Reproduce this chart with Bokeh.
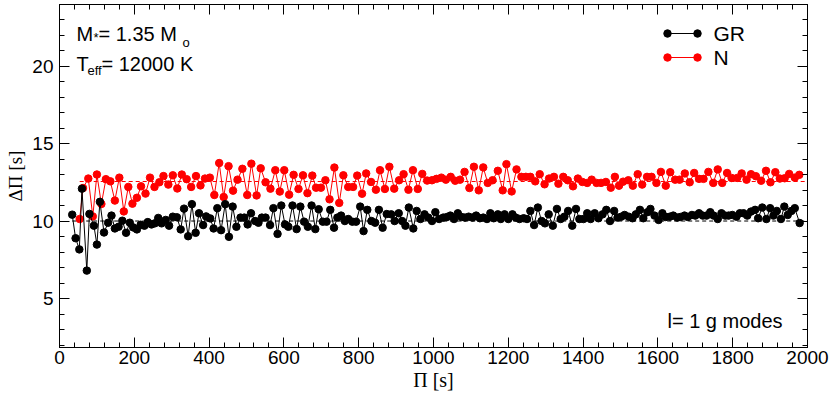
import math
from bokeh.plotting import figure
from bokeh.models import Range1d, LinearAxis, SingleIntervalTicker, Label
from bokeh.embed import file_html
from bokeh.resources import INLINE

# ---------------- data ----------------
gr_period = [34, 43, 53, 60, 73, 80, 92, 100, 108, 119, 130, 139, 148, 158, 168, 178, 188, 197, 207, 217,
             227, 236, 246, 255, 264, 273, 284, 293, 303, 314, 324, 333, 344, 354, 364, 373, 384, 392, 403, 412,
             422, 432, 443, 453, 463, 473, 484, 494, 503, 512, 523, 532, 541, 551, 563, 572, 583, 593, 603, 612,
             623, 634, 644, 654, 664, 674, 684, 693, 704, 714, 724, 734, 743, 753, 763, 772, 783, 793, 804, 813,
             823, 834, 844, 854, 864, 875, 887, 896, 907, 916, 925, 934, 946, 955, 965, 976, 986, 996, 1005, 1015,
             1026, 1036, 1045, 1055, 1065, 1075, 1084, 1094, 1104, 1114, 1124, 1133, 1143, 1152, 1161, 1172, 1180, 1190, 1200, 1211,
             1220, 1230, 1241, 1250, 1259, 1269, 1279, 1289, 1298, 1308, 1319, 1330, 1340, 1350, 1360, 1371, 1381, 1390, 1401, 1411,
             1420, 1431, 1441, 1452, 1462, 1472, 1483, 1492, 1502, 1511, 1522, 1532, 1541, 1552, 1561, 1572, 1580, 1591, 1602, 1612,
             1621, 1632, 1641, 1652, 1660, 1671, 1680, 1691, 1700, 1710, 1720, 1730, 1740, 1749, 1760, 1770, 1780, 1789, 1799, 1810,
             1819, 1829, 1839, 1849, 1860, 1868, 1879, 1890, 1900, 1909, 1918, 1929, 1938, 1947, 1957, 1966, 1979]
gr_spacing = [10.41, 8.89, 8.17, 12.09, 6.80, 10.46, 9.70, 8.48, 11.24, 9.26, 9.89, 10.35, 9.52, 9.63, 10.02, 9.24, 9.89, 9.59, 9.46, 9.76,
              9.70, 9.93, 9.78, 9.85, 10.20, 9.85, 10.07, 9.70, 10.28, 10.24, 9.46, 10.80, 9.02, 11.09, 9.24, 10.50, 9.74, 10.30, 10.17, 9.52,
              10.83, 9.41, 11.09, 8.98, 10.93, 9.63, 10.22, 10.22, 9.78, 10.50, 10.00, 9.89, 10.22, 10.22, 9.74, 10.83, 9.17, 11.00, 9.78, 9.63,
              11.00, 9.48, 10.93, 9.96, 9.63, 11.00, 9.48, 10.76, 9.96, 9.96, 10.72, 9.57, 10.22, 10.35, 10.00, 10.13, 9.96, 9.96, 10.93, 9.35,
              10.72, 10.00, 9.89, 10.72, 9.57, 10.45, 10.43, 10.00, 10.50, 10.00, 9.70, 10.87, 9.52, 10.65, 10.13, 10.43, 10.22, 10.00, 10.57, 10.13,
              10.22, 10.26, 10.35, 10.13, 10.50, 10.26, 10.22, 10.28, 10.22, 10.35, 10.18, 10.22, 10.13, 10.50, 10.18, 10.43, 10.13, 10.43, 10.13, 10.43,
              10.22, 10.13, 10.18, 10.13, 10.65, 9.74, 10.87, 10.00, 9.85, 10.43, 9.70, 10.78, 10.13, 10.28, 10.65, 9.70, 10.78, 10.13, 10.13, 10.50,
              10.13, 10.50, 10.18, 10.43, 10.72, 10.00, 10.65, 10.22, 10.28, 10.39, 10.28, 10.18, 10.43, 10.72, 10.18, 10.57, 10.78, 10.35, 10.07, 10.50,
              10.26, 10.28, 10.35, 10.22, 10.26, 10.35, 10.26, 10.39, 10.35, 10.50, 10.35, 10.35, 10.57, 10.35, 10.13, 10.50, 10.35, 10.35, 10.39, 10.28,
              10.50, 10.50, 10.35, 10.61, 10.72, 10.18, 10.87, 10.13, 10.83, 10.35, 10.65, 10.13, 10.93, 10.39, 10.65, 10.83, 9.87]

n_period = [54, 63, 77, 89, 100, 112, 124, 136, 148, 160, 172, 184, 195, 207, 218, 230, 242, 254, 267, 278,
            291, 303, 315, 327, 340, 352, 365, 377, 389, 402, 414, 427, 439, 452, 464, 476, 489, 502, 513, 527,
            538, 551, 564, 577, 589, 601, 614, 626, 639, 651, 663, 676, 686, 699, 711, 722, 735, 748, 759, 772,
            785, 796, 809, 820, 833, 846, 857, 870, 882, 895, 908, 920, 933, 945, 958, 970, 983, 996, 1008, 1021,
            1033, 1046, 1058, 1071, 1083, 1096, 1108, 1121, 1133, 1145, 1158, 1172, 1185, 1195, 1209, 1222, 1235, 1247, 1259, 1272,
            1284, 1297, 1309, 1322, 1334, 1347, 1359, 1373, 1386, 1398, 1411, 1423, 1436, 1448, 1461, 1474, 1485, 1496, 1507, 1521,
            1533, 1546, 1558, 1571, 1583, 1596, 1608, 1621, 1633, 1646, 1658, 1672, 1685, 1697, 1710, 1722, 1735, 1748, 1760, 1772,
            1785, 1797, 1812, 1824, 1837, 1849, 1862, 1876, 1889, 1901, 1914, 1926, 1939, 1951, 1966, 1978]
n_spacing = [10.13, 12.13, 12.74, 10.30, 13.00, 11.10, 12.70, 12.56, 11.32, 12.80, 10.62, 12.20, 11.12, 11.50, 12.24, 11.77, 12.80, 12.20, 12.50, 12.90,
             12.35, 12.95, 12.10, 13.00, 12.70, 12.20, 12.90, 12.30, 12.74, 12.80, 11.68, 13.74, 11.55, 13.54, 11.96, 12.67, 13.37, 11.68, 13.70, 11.65,
             13.40, 12.50, 12.09, 13.28, 11.90, 13.28, 11.70, 12.98, 12.07, 12.95, 11.80, 12.93, 12.15, 12.15, 12.63, 11.40, 13.45, 11.17, 12.95, 12.20,
             12.20, 12.93, 11.76, 13.07, 12.52, 12.02, 13.28, 12.07, 13.50, 12.09, 12.63, 13.02, 12.02, 13.28, 12.07, 13.04, 12.61, 12.63, 12.72, 12.80,
             12.67, 12.85, 12.60, 12.67, 13.17, 12.13, 13.50, 11.98, 13.46, 12.46, 12.63, 13.24, 11.98, 13.67, 11.91, 13.33, 12.85, 12.85, 12.85, 12.56,
             13.02, 12.37, 12.74, 12.85, 12.41, 12.85, 12.63, 12.24, 12.74, 12.52, 12.46, 12.67, 12.46, 12.46, 12.52, 12.15, 12.85, 12.28, 12.54, 12.63,
             12.28, 13.02, 12.35, 12.85, 12.85, 12.46, 13.17, 12.28, 13.15, 12.67, 12.67, 13.07, 12.50, 13.10, 12.72, 12.72, 13.17, 12.46, 13.33, 12.46,
             13.10, 12.78, 12.78, 13.07, 12.67, 13.02, 12.89, 12.60, 13.24, 12.50, 13.15, 12.74, 12.76, 13.04, 12.80, 12.98]

gr_asymptotic = 10.0
n_asymptotic = 12.55

series_names = ["GR", "N"]
x_tick_step = 200
y_tick_step = 5

assert len(gr_period) == len(gr_spacing)
assert len(n_period) == len(n_spacing)

# ---------------- layout ----------------
X_LO, X_HI = 0, 2000
Y_LO, Y_HI = 1.84, 23.97
W, H = 830, 398
FL, FR, FT, FB = 59, 807, 4, 347   # frame edges in canvas pixels
FONT = "Liberation Sans"
SERIF = "Liberation Serif"


def px(sx, sy):
    x = X_LO + (sx - FL) / (FR - FL) * (X_HI - X_LO)
    y = Y_HI - (sy - FT) / (FB - FT) * (Y_HI - Y_LO)
    return x, y


p = figure(width=W, height=H, x_range=Range1d(X_LO, X_HI), y_range=Range1d(Y_LO, Y_HI),
           output_backend="svg", toolbar_location=None,
           min_border_left=FL, min_border_right=W - FR,
           min_border_top=FT, min_border_bottom=H - FB)
p.xgrid.visible = False
p.ygrid.visible = False
p.outline_line_color = "black"
p.outline_line_width = 1
p.background_fill_color = "white"
p.border_fill_color = "white"


def style_axis(ax, labels=True, standoff=4):
    ax.axis_line_color = "black"
    ax.axis_line_width = 1
    ax.major_tick_in = 10
    ax.major_tick_out = 0
    ax.minor_tick_in = 5
    ax.minor_tick_out = 0
    ax.major_tick_line_color = "black"
    ax.minor_tick_line_color = "black"
    ax.major_tick_line_width = 1
    ax.minor_tick_line_width = 1
    if labels:
        ax.major_label_text_font = FONT
        ax.major_label_text_font_size = "19px"
        ax.major_label_text_color = "black"
        ax.major_label_standoff = standoff
        ax.axis_label_text_font = SERIF
        ax.axis_label_text_font_size = "20px"
        ax.axis_label_text_font_style = "normal"
        ax.axis_label_text_color = "black"
    else:
        ax.major_label_text_font_size = "0px"
        ax.major_label_text_alpha = 0
        ax.major_label_standoff = 0


p.xaxis[0].ticker = SingleIntervalTicker(interval=x_tick_step, num_minor_ticks=5)
p.yaxis[0].ticker = SingleIntervalTicker(interval=y_tick_step, num_minor_ticks=5)
style_axis(p.xaxis[0], True, 3)
style_axis(p.yaxis[0], True, 6)
p.xaxis[0].axis_label = "Π [s]"
p.xaxis[0].axis_label_standoff = 2
p.yaxis[0].axis_label = "ΔΠ [s]"
p.yaxis[0].axis_label_standoff = 3
p.yaxis[0].axis_label_text_font_size = "19px"

top = LinearAxis(ticker=SingleIntervalTicker(interval=x_tick_step, num_minor_ticks=5))
style_axis(top, False)
p.add_layout(top, "above")
right = LinearAxis(ticker=SingleIntervalTicker(interval=y_tick_step, num_minor_ticks=5))
style_axis(right, False)
p.add_layout(right, "right")

# asymptotic spacings
p.line([gr_period[0], X_HI], [gr_asymptotic, gr_asymptotic], line_color="black", line_width=1, line_dash="4 3")
p.line([n_period[0], X_HI], [n_asymptotic, n_asymptotic], line_color="red", line_width=1, line_dash="4 3")

# series
p.line(n_period, n_spacing, line_color="red", line_width=1)
p.scatter(n_period, n_spacing, size=7.5, fill_color="red", line_color="red")
p.line(gr_period, gr_spacing, line_color="black", line_width=1)
p.scatter(gr_period, gr_spacing, size=7.5, fill_color="black", line_color="black")

# legend (hand-built: symbol at both ends of the line)
for name, color, sy in [(series_names[0], "black", 33), (series_names[1], "red", 57)]:
    x1, y = px(667, sy)
    x2, _ = px(697, sy)
    p.line([x1, x2], [y, y], line_color=color, line_width=1)
    p.scatter([x1, x2], [y, y], size=7.5, fill_color=color, line_color=color)
    lx, _ = px(713, sy)
    p.add_layout(Label(x=lx, y=y, text=name, text_font=FONT, text_font_size="21px",
                       text_baseline="middle", text_align="left", text_color="black"))


def add_text(sx, sy, text, size, font=FONT, angle=0.0):
    x, y = px(sx, sy)
    p.add_layout(Label(x=x, y=y, text=text, text_font=font, text_font_size=f"{size}px",
                       text_baseline="alphabetic", text_align="left", angle=angle,
                       text_color="black"))


add_text(76, 33, "M", 20)
add_text(93, 37, "*", 13)
add_text(98, 33, "= 1.35 M", 20)
add_text(182, 42, "o", 13)
add_text(76, 63, "T", 20)
add_text(87, 70, "eff", 13)
add_text(101, 63, "= 12000 K", 20)
add_text(667, 320, "l= 1 g modes", 20)

open("out.html", "w").write(file_html(p, INLINE))
